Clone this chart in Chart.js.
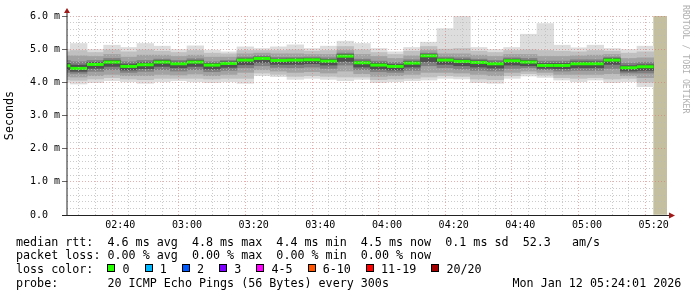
<!DOCTYPE html>
<html>
<head>
<meta charset="utf-8">
<script src="https://cdn.jsdelivr.net/npm/chart.js@4.4.1/dist/chart.umd.min.js"></script>
<style>
  html, body { margin: 0; padding: 0; background: #fff; }
  #wrap { position: relative; width: 697px; height: 297px; overflow: hidden; font-family: "DejaVu Sans Mono", monospace; }
  #chart { position: absolute; left: 0; top: 0; }
  .row { position: absolute; left: 16px; font-size: 11.7px; line-height: 14px; white-space: pre; color: #000; }
  .box { display: inline-block; width: 6px; height: 6px; border: 1px solid #000; margin-right: 7px; margin-bottom: 1px; vertical-align: baseline; }
  .lbl { margin-right: 15.2px; }
  #credit { position: absolute; left: 681px; top: 5px; writing-mode: vertical-rl; font-size: 8.2px; line-height: 10px; color: #b0b0b0; white-space: pre; }
</style>
</head>
<body>
<div id="wrap">
  <canvas id="chart" width="697" height="297"></canvas>
  <div id="credit">RRDTOOL / TOBI OETIKER</div>
  <div class="row" style="top:234.6px">median rtt:  4.6 ms avg  4.8 ms max  4.4 ms min  4.5 ms now  0.1 ms sd  52.3   am/s</div>
  <div class="row" style="top:248.3px">packet loss: 0.00 % avg  0.00 % max  0.00 % min  0.00 % now</div>
  <div class="row" id="lossRow" style="top:262px">loss color:  </div>
  <div class="row" style="top:275.7px">probe:       20 ICMP Echo Pings (56 Bytes) every 300s</div>
  <div class="row" style="top:275.7px; left:512.5px">Mon Jan 12 05:24:01 2026</div>
</div>
<script>
// 5 minute slots (start time of each step)
var slotStart = ['02:20', '02:25', '02:30', '02:35', '02:40', '02:45', '02:50', '02:55',
                 '03:00', '03:05', '03:10', '03:15', '03:20', '03:25', '03:30', '03:35',
                 '03:40', '03:45', '03:50', '03:55', '04:00', '04:05', '04:10', '04:15',
                 '04:20', '04:25', '04:30', '04:35', '04:40', '04:45', '04:50', '04:55',
                 '05:00', '05:05', '05:10', '05:15'];
var slotMinutes = 5;
var unknownStart = ['05:20'];
var xRange = ['02:24', '05:24'];
var yRange = [0, 6];

// median rtt (ms)
var median = [4.50, 4.42, 4.54, 4.61, 4.48, 4.53, 4.61, 4.56, 4.61, 4.52, 4.57, 4.67,
              4.72, 4.66, 4.67, 4.68, 4.64, 4.79, 4.59, 4.52, 4.48, 4.58, 4.80, 4.67,
              4.63, 4.60, 4.56, 4.65, 4.61, 4.51, 4.51, 4.56, 4.56, 4.67, 4.44, 4.47];
// smoke: outer (min..max) to inner bands
var smokeMax = [5.00, 5.17, 4.99, 5.12, 5.05, 5.17, 5.09, 4.99, 5.10, 4.97, 4.92, 5.07,
                5.02, 5.07, 5.13, 5.02, 5.09, 5.24, 5.17, 5.02, 4.92, 5.05, 5.21, 5.62,
                5.99, 5.05, 4.99, 5.05, 5.45, 5.77, 5.12, 5.04, 5.12, 5.02, 4.99, 5.09];
var smokeMin = [4.00, 3.95, 3.99, 4.05, 4.02, 3.97, 4.02, 4.05, 4.02, 3.99, 4.02, 3.97,
                4.20, 4.17, 4.09, 4.12, 4.09, 4.05, 4.09, 3.99, 4.02, 4.05, 4.07, 4.12,
                4.10, 3.99, 3.97, 4.12, 4.19, 4.15, 4.07, 4.02, 4.07, 3.99, 4.02, 3.87];
var band2Hi = [4.92, 4.96, 4.90, 4.98, 4.92, 4.98, 4.94, 4.90, 4.96, 4.88, 4.86, 4.96,
               4.96, 4.96, 4.98, 4.94, 4.96, 5.08, 4.98, 4.90, 4.84, 4.94, 5.08, 5.00,
               5.02, 4.94, 4.90, 4.96, 4.98, 4.96, 4.94, 4.92, 4.96, 4.94, 4.88, 4.92];
var band2Lo = [4.08, 4.06, 4.10, 4.14, 4.10, 4.08, 4.12, 4.12, 4.12, 4.10, 4.12, 4.12,
               4.28, 4.24, 4.18, 4.20, 4.18, 4.16, 4.16, 4.08, 4.10, 4.12, 4.16, 4.20,
               4.18, 4.10, 4.08, 4.20, 4.26, 4.22, 4.14, 4.12, 4.14, 4.10, 4.12, 4.00];
var band3Hi = [4.80, 4.80, 4.78, 4.84, 4.76, 4.82, 4.82, 4.78, 4.82, 4.76, 4.76, 4.86,
               4.88, 4.86, 4.86, 4.84, 4.84, 4.96, 4.84, 4.78, 4.72, 4.80, 4.96, 4.86,
               4.86, 4.82, 4.78, 4.84, 4.84, 4.78, 4.78, 4.80, 4.82, 4.84, 4.72, 4.74];
var band3Lo = [4.18, 4.16, 4.20, 4.24, 4.20, 4.20, 4.24, 4.22, 4.25, 4.20, 4.24, 4.30,
               4.38, 4.34, 4.30, 4.32, 4.28, 4.34, 4.26, 4.18, 4.20, 4.24, 4.30, 4.30,
               4.28, 4.24, 4.20, 4.30, 4.34, 4.30, 4.24, 4.24, 4.24, 4.26, 4.20, 4.14];
var band4Hi = [4.66, 4.62, 4.66, 4.72, 4.62, 4.66, 4.70, 4.66, 4.71, 4.62, 4.66, 4.76,
               4.80, 4.75, 4.75, 4.76, 4.74, 4.88, 4.70, 4.64, 4.60, 4.68, 4.88, 4.76,
               4.74, 4.70, 4.66, 4.74, 4.72, 4.64, 4.64, 4.68, 4.68, 4.76, 4.58, 4.60];
var band4Lo = [4.30, 4.27, 4.33, 4.38, 4.30, 4.33, 4.38, 4.34, 4.38, 4.32, 4.36, 4.44,
               4.50, 4.45, 4.44, 4.46, 4.42, 4.52, 4.38, 4.32, 4.30, 4.36, 4.50, 4.44,
               4.40, 4.36, 4.34, 4.42, 4.44, 4.38, 4.34, 4.36, 4.36, 4.42, 4.28, 4.28];
var coreHi = [4.57, 4.52, 4.60, 4.66, 4.55, 4.59, 4.66, 4.61, 4.66, 4.57, 4.62, 4.71,
              4.76, 4.70, 4.71, 4.72, 4.69, 4.84, 4.64, 4.58, 4.54, 4.63, 4.85, 4.71,
              4.68, 4.65, 4.61, 4.70, 4.66, 4.57, 4.57, 4.62, 4.62, 4.72, 4.50, 4.53];
var coreLo = [4.38, 4.33, 4.42, 4.48, 4.37, 4.41, 4.48, 4.44, 4.48, 4.40, 4.45, 4.53,
              4.60, 4.54, 4.54, 4.56, 4.52, 4.63, 4.46, 4.40, 4.37, 4.46, 4.62, 4.54,
              4.50, 4.46, 4.43, 4.52, 4.50, 4.42, 4.41, 4.44, 4.44, 4.54, 4.34, 4.36];

var xTickLabels = ['02:40', '03:00', '03:20', '03:40', '04:00', '04:20', '04:40', '05:00', '05:20'];
var yTickLabels = ['0.0', '1.0 m', '2.0 m', '3.0 m', '4.0 m', '5.0 m', '6.0 m'];

var lossNames = ['0', '1', '2', '3', '4-5', '6-10', '11-19', '20/20'];
var lossColors = ['#26ff00', '#00b8ff', '#0059ff', '#7e00ff', '#ff00ff', '#ff5500', '#ff0000', '#a10000'];

// hh:mm -> minutes
function toMin(s) {
    var p = s.split(':');
    return Number(p[0]) * 60 + Number(p[1]);
}

//Legend for loss colours
var lossRow = document.getElementById('lossRow');
lossNames.forEach(function (n, i) {
    var b = document.createElement('span');
    b.className = 'box';
    b.style.background = lossColors[i];
    lossRow.appendChild(b);
    var t = document.createElement('span');
    t.className = 'lbl';
    t.textContent = n;
    lossRow.appendChild(t);
});

var smokeBands = [
    {lo: smokeMin, hi: smokeMax, color: '#dddddd'},
    {lo: band2Lo, hi: band2Hi, color: '#c0c0c0'},
    {lo: band3Lo, hi: band3Hi, color: '#a2a2a2'},
    {lo: band4Lo, hi: band4Hi, color: '#808080'},
    {lo: coreLo, hi: coreHi, color: '#505050'}
];

function slotCenter(s) {
    return toMin(s) + slotMinutes / 2;
}

var datasets = smokeBands.map(function (b, i) {
    return {
        type: 'bar',
        data: slotStart.map(function (s, k) { return {x: slotCenter(s), y: [b.lo[k], b.hi[k]]}; }),
        backgroundColor: b.color,
        borderWidth: 0,
        grouped: false,
        barPercentage: 1,
        categoryPercentage: 1,
        order: 10 - i
    };
});
//unknown data at the end
datasets.push({
    type: 'bar',
    data: unknownStart.map(function (s) { return {x: slotCenter(s), y: [yRange[0], yRange[1]]}; }),
    backgroundColor: '#c3bf9f',
    borderWidth: 0,
    grouped: false,
    barPercentage: 1,
    categoryPercentage: 1,
    order: 20
});
//median as short green line per step
datasets.push({
    type: 'line',
    data: slotStart.map(function (s, k) { return {x: slotCenter(s), y: median[k]}; }),
    showLine: false,
    pointStyle: 'line',
    pointRadius: function (c) {
        var x = c.chart.scales.x;
        if (!x) return 8;
        return (x.getPixelForValue(slotMinutes) - x.getPixelForValue(0)) / 2;
    },
    pointBorderWidth: 3,
    pointBorderColor: '#26ff00',
    pointBackgroundColor: '#26ff00',
    clip: 0,
    order: 0
});

var minorGrid = 'rgba(185,185,185,0.75)';
var majorGrid = 'rgba(215,120,120,0.6)';

function isWhole(v) {
    return Math.abs(v - Math.round(v)) < 1e-6;
}

//Axes with arrows and the rrdtool-style frame
var axisPlugin = {
    id: 'axes',
    afterDraw: function (chart) {
        var ctx = chart.ctx, a = chart.chartArea;
        ctx.save();
        ctx.lineWidth = 1;
        ctx.strokeStyle = '#222';
        ctx.beginPath();
        ctx.moveTo(a.left - 5, a.bottom + 0.5);
        ctx.lineTo(a.right + 2, a.bottom + 0.5);
        ctx.stroke();
        ctx.beginPath();
        ctx.moveTo(a.left, a.bottom + 1);
        ctx.lineTo(a.left, a.top - 3);
        ctx.stroke();
        ctx.fillStyle = '#a01818';
        ctx.beginPath();
        ctx.moveTo(a.left, a.top - 8);
        ctx.lineTo(a.left - 3, a.top - 3);
        ctx.lineTo(a.left + 3, a.top - 3);
        ctx.closePath();
        ctx.fill();
        ctx.beginPath();
        ctx.moveTo(a.right + 8, a.bottom + 0.5);
        ctx.lineTo(a.right + 2, a.bottom - 2.5);
        ctx.lineTo(a.right + 2, a.bottom + 3.5);
        ctx.closePath();
        ctx.fill();
        ctx.restore();
    }
};

Chart.defaults.font.family = '"DejaVu Sans Mono", monospace';
Chart.defaults.font.size = 10;
Chart.defaults.color = '#000';

new Chart(document.getElementById('chart'), {
    type: 'bar',
    data: {datasets: datasets},
    plugins: [axisPlugin],
    options: {
        responsive: false,
        animation: false,
        events: [],
        layout: {padding: {left: 0, top: 16, right: 30, bottom: 62}},
        plugins: {legend: {display: false}, tooltip: {enabled: false}},
        scales: {
            x: {
                type: 'linear',
                min: toMin(xRange[0]),
                max: toMin(xRange[1]),
                offset: false,
                afterFit: function (s) { s.height = 20; },
                afterBuildTicks: function (s) {
                    var t = [];
                    for (var v = Math.ceil(s.min / slotMinutes) * slotMinutes; v <= s.max; v += slotMinutes)
                        t.push({value: v});
                    s.ticks = t;
                },
                ticks: {
                    autoSkip: false,
                    maxRotation: 0,
                    padding: 4,
                    callback: function (v) {
                        var h = Math.floor(v / 60), m = v % 60;
                        var lab = (h < 10 ? '0' : '') + h + ':' + (m < 10 ? '0' : '') + m;
                        return xTickLabels.indexOf(lab) >= 0 ? lab : '';
                    }
                },
                grid: {
                    z: 1,
                    drawTicks: false,
                    color: function (c) {
                        if (!c.tick) return 'transparent';
                        var v = c.tick.value;
                        if (v % slotMinutes !== 0) return 'transparent';
                        return v % 20 === 0 ? majorGrid : minorGrid;
                    }
                },
                border: {display: false, dash: [1, 2]}
            },
            y: {
                min: yRange[0],
                max: yRange[1],
                afterFit: function (s) { s.width = 67; },
                title: {display: true, text: 'Seconds', font: {size: 11.7}, padding: {top: 3, bottom: 0}},
                ticks: {
                    stepSize: 0.2,
                    autoSkip: false,
                    padding: 2,
                    callback: function (v) {
                        if (!isWhole(v)) return '';
                        return yTickLabels[Math.round(v)].padEnd(5, ' ');
                    }
                },
                grid: {
                    z: 1,
                    tickLength: 5,
                    color: function (c) {
                        if (!c.tick) return 'transparent';
                        var v = c.tick.value;
                        if (Math.abs(v) < 1e-6) return 'transparent';
                        return isWhole(v) ? majorGrid : minorGrid;
                    },
                    tickColor: function (c) {
                        if (!c.tick) return 'transparent';
                        return isWhole(c.tick.value) ? '#666' : 'transparent';
                    }
                },
                border: {display: false, dash: [1, 2]}
            }
        }
    }
});
</script>
</body>
</html>
